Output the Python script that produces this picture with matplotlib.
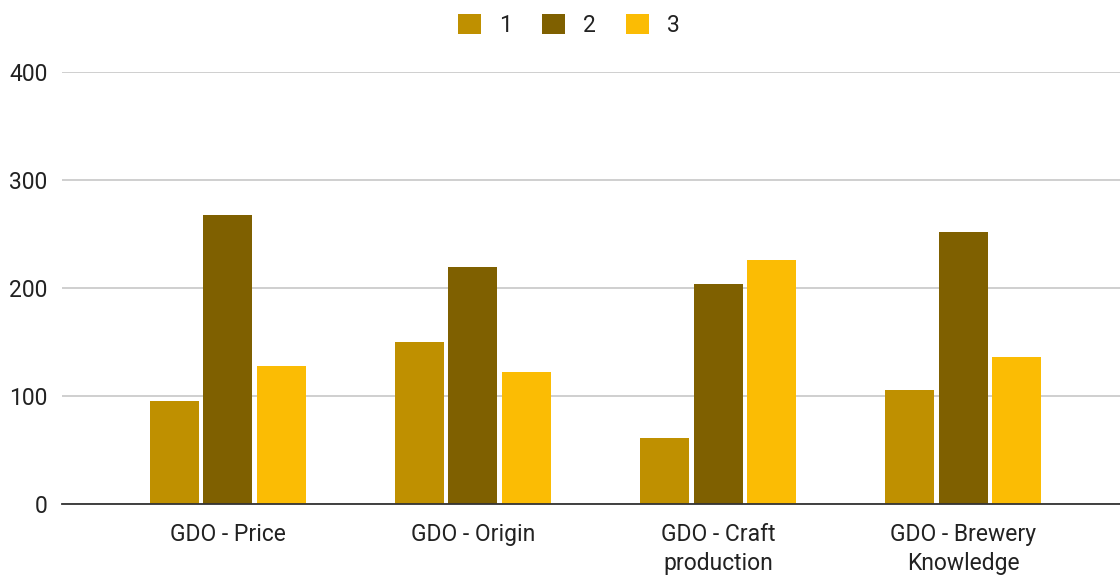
import numpy as np
from matplotlib import pyplot as plt

categories = ["GDO - Price", "GDO - Origin", "GDO - Craft\nproduction", "GDO - Brewery\nKnowledge"]
series_names = ["1", "2", "3"]
values_1 = [95, 150, 61, 106]
values_2 = [268, 219, 204, 252]
values_3 = [128, 122, 226, 136]
colours = ["#BF9000", "#7F6000", "#FBBC04"]

plt.rcParams["font.family"] = ["Roboto", "DejaVu Sans"]

fig = plt.figure(figsize=(11.2, 5.76), dpi=100)
ax = fig.add_axes([0.055, 0.125, 0.945, 0.75])

x = np.arange(len(categories))
width = 0.2
step = 0.218
for j, (vals, c, name) in enumerate(zip([values_1, values_2, values_3], colours, series_names)):
    ax.bar(x + (j - 1)*step, vals, width, color=c, label=name, zorder=3)

ax.set_ylim(0, 400)
ax.set_xlim(-0.678, 3.64)
ax.set_yticks([0, 100, 200, 300, 400])
ax.set_xticks(x)
ax.set_xticklabels(categories, fontsize=16.5, color="#222222", linespacing=1.3)
ax.tick_params(axis="y", length=0, pad=10, labelsize=16.5, labelcolor="#222222")
ax.tick_params(axis="x", length=0, pad=14)
ax.grid(axis="y", color="#cccccc", linewidth=1.3, zorder=0)
for s in ["top", "right", "left"]:
    ax.spines[s].set_visible(False)
ax.spines["bottom"].set_color("#333333")
ax.spines["bottom"].set_linewidth(1.3)
ax.spines["bottom"].set_zorder(4)

fig.legend(loc="upper center", bbox_to_anchor=(0.508, 1.012), ncol=3, frameon=False,
           fontsize=16.5, handlelength=1.0, handleheight=1.0, columnspacing=1.3,
           handletextpad=0.8, labelcolor="#222222")

plt.savefig("out.png", dpi=100)
plt.close()
